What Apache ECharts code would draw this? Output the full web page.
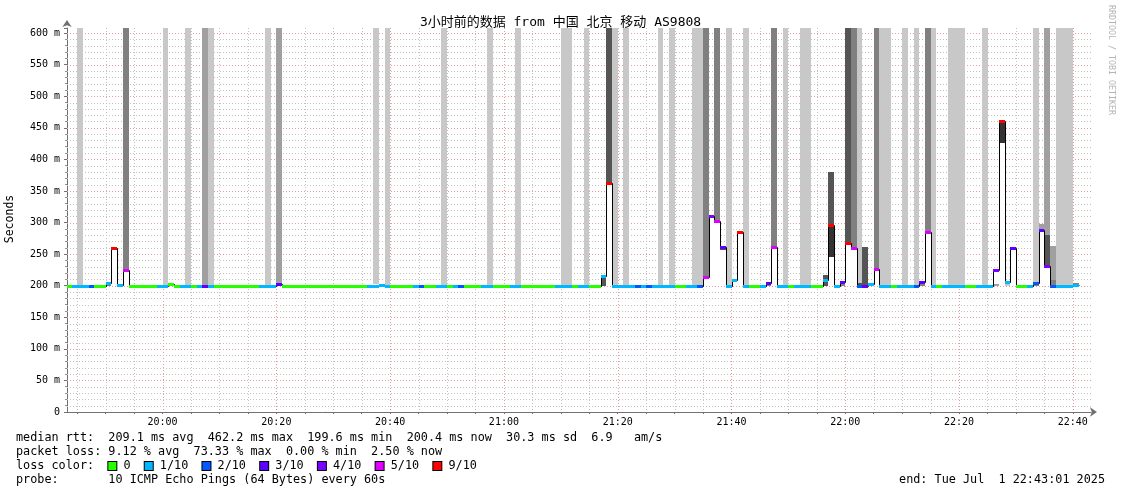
<!DOCTYPE html>
<html><head><meta charset="utf-8">
<script src="https://cdn.jsdelivr.net/npm/echarts@6/dist/echarts.min.js"></script>
<style>html,body{margin:0;padding:0;background:#fff}#c{width:1121px;height:494px}</style>
</head><body><div id="c"></div>
<script>
// ---------------- data ----------------
const titleText = '3小时前的数据 from 中国 北京 移动 AS9808';
const yAxisName = 'Seconds';
const firstSampleMinute = 1183.0167;   // 19:43:01, one sample per minute
const axisStartMinute = 1183.2;
const axisEndMinute = 1363.2;
const timeLabelMinutes = [1200, 1220, 1240, 1260, 1280, 1300, 1320, 1340, 1360];
const valueLabelTicks = [0, 50, 100, 150, 200, 250, 300, 350, 400, 450, 500, 550, 600];

// median rtt (ms) per minute sample
const median = [
  200, 199.6, 199.6, 200, 200, 199.6, 199.6, 204, 260, 201,
  225, 200, 200, 200, 200, 200, 199.6, 199.6, 202, 200,
  199.6, 199.6, 200, 199.6, 200, 199.6, 200, 200, 200, 200,
  200, 200, 200, 200, 199.6, 199.6, 199.6, 202, 200, 199.6,
  200, 199.6, 200, 200, 200, 200, 200, 199.6, 199.6, 200,
  200, 200, 200, 200, 200, 201.5, 200, 200, 200, 200,
  200, 200, 200, 200, 200, 200, 200, 200, 200, 200,
  200, 200, 200, 200, 200, 200, 200, 200, 200, 200,
  200, 200, 200, 200, 200, 200, 200, 200, 200, 200,
  200, 200, 200, 200, 215, 363, 200, 200, 200, 200,
  200, 200, 200, 200, 200, 200, 200, 200, 200, 200,
  200, 200, 214, 311, 303, 261, 200, 209, 285, 200,
  200, 200, 200, 205, 261, 200, 200, 200, 200, 200,
  200, 200, 200, 209, 296, 200, 206, 267, 259, 200,
  200, 203, 227, 200, 200, 200, 200, 200, 200, 200,
  206, 285, 200, 200, 200, 200, 200, 200, 200, 200,
  200, 200, 200, 225, 461, 206, 260, 200, 200, 200,
  205, 288, 231, 200, 200, 200, 200, 200.4
];
// lost pings out of 10 per sample
const lossTenths = [
  0,1,1,1,2,0,0,1,9,1,
  5,0,0,0,0,0,1,1,0,0,
  1,1,0,1,3,1,0,0,0,0,
  0,0,0,0,1,1,1,3,0,0,
  0,0,0,0,0,0,0,0,0,0,
  0,0,0,1,1,1,1,0,0,0,
  0,1,2,0,0,1,1,0,1,2,
  0,0,0,1,1,0,0,0,1,1,
  0,0,0,0,0,0,1,1,1,0,
  1,1,0,0,1,9,1,1,1,1,
  2,1,2,1,1,1,1,0,0,1,
  1,2,5,4,5,3,1,1,9,1,
  0,0,1,3,5,1,1,0,1,1,
  1,0,0,1,9,1,3,9,5,2,
  3,1,5,1,1,0,1,1,1,2,
  3,5,1,0,1,1,1,1,0,0,
  1,1,1,4,9,1,3,0,0,1,
  2,3,4,2,1,1,1,1
];
// smoke (spread of the pings): sample index, low ms, high ms, ping density level
const smokeSample  = [2, 7, 10, 17, 21, 24, 25, 35, 37, 54, 56, 66, 74, 79, 87, 88, 91, 94, 95, 96, 98, 104, 106, 110, 111, 112, 114, 115, 116, 119, 123, 124, 126, 129, 130, 133, 134, 134, 136, 137, 138, 139, 139, 140, 142, 143, 144, 147, 149, 150, 151, 152, 155, 156, 157, 161, 163, 164, 165, 170, 170, 171, 172, 172, 173, 173, 174, 175, 176, 177];
const smokeLow     = [201, 199.6, 227, 201, 201, 201, 201, 201, 203, 203, 201, 201, 201, 201, 201, 201, 201, 200, 364, 201, 201, 201, 201, 201, 201, 215, 304, 256, 201, 201, 200, 262, 201, 201, 201, 200, 245, 298, 200, 268, 260, 200, 205, 200, 228, 201, 201, 201, 201, 200, 286, 201, 201, 201, 201, 201, 200, 426, 200, 200, 205, 289, 233, 280, 200, 209, 201, 201, 201, 200];
const smokeHigh    = [650, 203, 650, 650, 650, 650, 650, 650, 650, 650, 650, 650, 650, 650, 650, 650, 650, 214, 650, 650, 650, 650, 650, 650, 650, 650, 650, 260, 650, 650, 204, 650, 650, 650, 650, 217, 295, 380, 205, 650, 650, 205, 650, 262, 650, 650, 650, 650, 650, 205, 650, 650, 650, 650, 650, 650, 203, 461, 204, 205, 650, 297, 280, 650, 209, 263, 650, 650, 650, 204];
const smokeDensity = [1, 3, 3, 1, 1, 2, 1, 1, 2, 1, 1, 1, 1, 1, 1, 1, 1, 4, 4, 1, 1, 1, 1, 1, 1, 3, 3, 4, 1, 1, 3, 3, 1, 1, 1, 4, 5, 4, 3, 4, 3, 4, 1, 4, 3, 1, 1, 1, 1, 3, 3, 1, 1, 1, 1, 1, 2, 5, 1, 3, 1, 2, 4, 2, 3, 2, 1, 1, 1, 3];

const statsLines = [
  'median rtt:  209.1 ms avg  462.2 ms max  199.6 ms min  200.4 ms now  30.3 ms sd  6.9   am/s',
  'packet loss: 9.12 % avg  73.33 % max  0.00 % min  2.50 % now',
  'probe:       10 ICMP Echo Pings (64 Bytes) every 60s'
];
const lossLegendKeys = [0, 1, 2, 3, 4, 5, 9];
const lossLegendLabels = ['0', '1/10', '2/10', '3/10', '4/10', '5/10', '9/10'];
const endText = 'end: Tue Jul  1 22:43:01 2025';
const creditText = 'RRDTOOL / TOBI OETIKER';

// ---------------- styling ----------------
const fontMono = '"DejaVu Sans Mono", "Noto Sans CJK SC", monospace';
const lossColor = {0:'#26ff00', 1:'#00b8ff', 2:'#0059ff', 3:'#5e00ff', 4:'#7e00ff', 5:'#dd00ff', 9:'#ff0000'};
const densityColor = ['', '#c8c8c8', '#a0a0a0', '#808080', '#555555', '#333333'];
const T = k => firstSampleMinute + k;
function hhmm(m){ const h = Math.floor(m/60), mm = Math.round(m - h*60); return String(h).padStart(2,'0') + ':' + String(mm).padStart(2,'0'); }

const gridData = [];
for (let m = Math.ceil(axisStartMinute/5)*5; m <= axisEndMinute; m += 5) gridData.push([m, 0, 0, m % 20 === 0 ? 1 : 0]);
for (let v = 10; v <= 600; v += 10) gridData.push([axisStartMinute, v, 1, v % 50 === 0 ? 1 : 0]);

const tickMinutes = [];
for (let m = Math.ceil(axisStartMinute/5)*5; m <= axisEndMinute; m += 5) tickMinutes.push(m);

const chart = echarts.init(document.getElementById('c'), null, {renderer: 'canvas'});

function xr(api, x){ return Math.round(api.coord([x, 0])[0]); }
function yr(api, v){ return Math.round(api.coord([axisStartMinute, v])[1]); }

const lossRich = {};
lossLegendKeys.forEach(k => {
  lossRich['c' + k] = {width: 8, height: 8, backgroundColor: lossColor[k], borderColor: '#000', borderWidth: 1, verticalAlign: 'middle'};
});
lossRich.t = {fontFamily: fontMono, fontSize: 11.8, color: '#000'};
const lossLine = 'loss color:  ' + lossLegendKeys.map((k, i) => '{c' + k + '|}{t| ' + lossLegendLabels[i] + '  }').join('');

const option = {
  animation: false,
  backgroundColor: '#fff',
  title: {text: titleText, left: 'center', top: 11, textStyle: {fontFamily: fontMono, fontSize: 13, fontWeight: 'normal', color: '#000'}},
  grid: {left: 67, top: 28, width: 1024, height: 384, containLabel: false},
  xAxis: {
    type: 'value', min: axisStartMinute, max: axisEndMinute,
    axisLine: {show: true, lineStyle: {color: '#707070', width: 1}, symbol: ['none', 'arrow'], symbolSize: [7, 7], symbolOffset: [0, 6]},
    axisTick: {show: true, customValues: tickMinutes, length: 2, lineStyle: {color: '#707070'}},
    axisLabel: {customValues: timeLabelMinutes, formatter: v => hhmm(v), fontFamily: fontMono, fontSize: 10, color: '#000', margin: 5},
    splitLine: {show: false}
  },
  yAxis: {
    type: 'value', min: 0, max: 608, interval: 50,
    axisLine: {show: true, lineStyle: {color: '#707070', width: 1}, symbol: ['none', 'arrow'], symbolSize: [7, 7], symbolOffset: [0, 8]},
    axisTick: {show: true, length: 3, lineStyle: {color: '#707070'}},
    minorTick: {show: true, splitNumber: 5, length: 2, lineStyle: {color: '#909090'}},
    axisLabel: {formatter: v => (valueLabelTicks.indexOf(v) < 0 ? '' : (v === 0 ? '0' : v + ' m')), fontFamily: fontMono, fontSize: 10, color: '#000', margin: 7},
    splitLine: {show: false}
  },
  series: [
    { // grid
      type: 'custom', z: 1, silent: true, clip: true,
      data: gridData,
      renderItem(params, api) {
        const cs = params.coordSys;
        const major = api.value(3) === 1;
        const style = {stroke: major ? '#e79a9a' : '#c2c2c2', lineWidth: 1, lineDash: [1, 2]};
        if (api.value(2) === 0) {
          const x = xr(api, api.value(0)) + 0.5;
          return {type: 'line', shape: {x1: x, y1: cs.y, x2: x, y2: cs.y + cs.height}, style};
        }
        const y = yr(api, api.value(1)) + 0.5;
        return {type: 'line', shape: {x1: cs.x, y1: y, x2: cs.x + cs.width, y2: y}, style};
      }
    },
    { // white area under raised medians
      type: 'custom', z: 2, silent: true, clip: true,
      data: median.map((v, k) => [T(k), v]).filter(d => d[1] > 200.5),
      renderItem(params, api) {
        const x0 = xr(api, api.value(0)), x1 = xr(api, api.value(0) + 1);
        const yTop = yr(api, api.value(1)), yBot = yr(api, 199.6);
        return {type: 'rect', shape: {x: x0, y: yTop, width: x1 - x0, height: yBot - yTop}, style: {fill: '#ffffff'}};
      }
    },
    { // smoke
      type: 'custom', z: 3, silent: true, clip: true,
      data: smokeSample.map((k, i) => [T(k), smokeLow[i], smokeHigh[i], smokeDensity[i]]),
      renderItem(params, api) {
        const cs = params.coordSys;
        const x0 = xr(api, api.value(0)), x1 = xr(api, api.value(0) + 1);
        let yTop = yr(api, api.value(2)), yBot = yr(api, api.value(1));
        yTop = Math.max(yTop, cs.y);
        return {type: 'rect', shape: {x: x0, y: yTop, width: x1 - x0, height: yBot - yTop}, style: {fill: densityColor[api.value(3)]}};
      }
    },
    { // median step line (black)
      type: 'custom', z: 4, silent: true, clip: true,
      data: median.map((v, k) => [T(k), v, k === 0 ? v : median[k - 1]]),
      renderItem(params, api) {
        const x0 = xr(api, api.value(0)) + 0.5, x1 = xr(api, api.value(0) + 1) + 0.5;
        const y = yr(api, api.value(1)) + 0.5, yp = yr(api, api.value(2)) + 0.5;
        return {type: 'polyline', shape: {points: [[x0, yp], [x0, y], [x1, y]]}, style: {stroke: '#000', lineWidth: 1, fill: null}};
      }
    },
    { // median coloured by packet loss
      type: 'custom', z: 5, silent: true, clip: true,
      data: median.map((v, k) => [T(k), v, lossTenths[k]]),
      renderItem(params, api) {
        const x0 = xr(api, api.value(0)), x1 = xr(api, api.value(0) + 1);
        const y = yr(api, api.value(1));
        return {type: 'rect', shape: {x: x0, y: y - 1, width: x1 - x0, height: 3}, style: {fill: lossColor[api.value(2)]}};
      }
    }
  ],
  graphic: [
    {type: 'text', x: 10, y: 219, rotation: Math.PI / 2, style: {text: yAxisName, align: 'center', verticalAlign: 'middle', fontFamily: fontMono, fontSize: 11.5, fill: '#000'}},
    {type: 'text', x: 1111, y: 60, rotation: -Math.PI / 2, style: {text: creditText, align: 'center', verticalAlign: 'middle', fontFamily: fontMono, fontSize: 8.3, fill: '#b4b4b4'}},
    {type: 'text', x: 16, y: 438, style: {text: statsLines[0], verticalAlign: 'middle', fontFamily: fontMono, fontSize: 11.8, fill: '#000'}},
    {type: 'text', x: 16, y: 452, style: {text: statsLines[1], verticalAlign: 'middle', fontFamily: fontMono, fontSize: 11.8, fill: '#000'}},
    {type: 'text', x: 16, y: 466, style: {text: lossLine, rich: lossRich, verticalAlign: 'middle', fontFamily: fontMono, fontSize: 11.8, fill: '#000'}},
    {type: 'text', x: 16, y: 480, style: {text: statsLines[2], verticalAlign: 'middle', fontFamily: fontMono, fontSize: 11.8, fill: '#000'}},
    {type: 'text', x: 1105, y: 480, style: {text: endText, align: 'right', verticalAlign: 'middle', fontFamily: fontMono, fontSize: 11.8, fill: '#000'}}
  ]
};
chart.setOption(option);
</script></body></html>
